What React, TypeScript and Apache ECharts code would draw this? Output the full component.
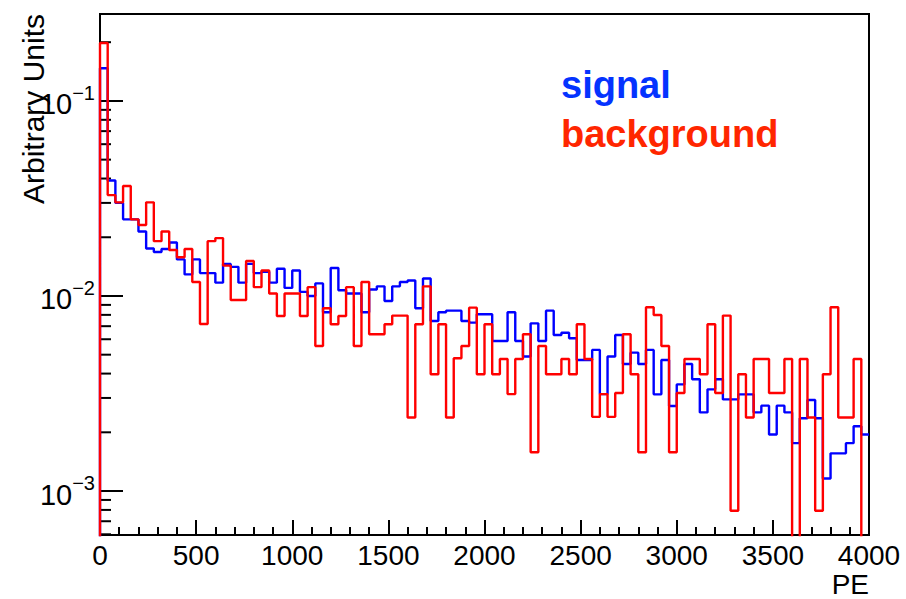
import React, { useEffect, useRef } from "react";
import * as echarts from "echarts";

const FONT = '"Liberation Sans", Arial, Helvetica, sans-serif';

// Histogram binning (PE)
const BIN_WIDTH = 40;
const X_MIN = 0;
const X_MAX = 4000;
const X_TICK_INTERVAL = 500;

// Y axis (log) range
const Y_MIN = 5.95e-4;
const Y_MAX = 0.279;
const Y_MINOR_TICKS = [
  6e-4, 7e-4, 8e-4, 9e-4,
  2e-3, 3e-3, 4e-3, 5e-3, 6e-3, 7e-3, 8e-3, 9e-3,
  2e-2, 3e-2, 4e-2, 5e-2, 6e-2, 7e-2, 8e-2, 9e-2,
  2e-1,
];

const SIGNAL = [
  0.147, 0.0391, 0.03, 0.0247, 0.0247, 0.0214, 0.0175, 0.0168, 0.0174, 0.0188,
  0.0154, 0.0129, 0.0154, 0.0131, 0.0131, 0.0117, 0.0146, 0.0141, 0.0117, 0.0146,
  0.0131, 0.0133, 0.0117, 0.0138, 0.011, 0.0135, 0.0105, 0.01, 0.0116, 0.00825,
  0.0139, 0.0107, 0.0103, 0.0103, 0.00825, 0.0108, 0.0112, 0.00943, 0.0112, 0.0118,
  0.012, 0.00865, 0.0123, 0.00744, 0.00825, 0.00841, 0.00841, 0.00744, 0.0073, 0.00806,
  0.00806, 0.00588, 0.00588, 0.00825, 0.00588, 0.00489, 0.00724, 0.00588, 0.00841, 0.00631,
  0.00648, 0.00607, 0.0047, 0.0047, 0.00529, 0.00314, 0.00489, 0.00631, 0.00448, 0.00512,
  0.00448, 0.00529, 0.00313, 0.0047, 0.00273, 0.00352, 0.00448, 0.00374, 0.00253, 0.00332,
  0.00374, 0.00295, 0.00295, 0.00313, 0.00313, 0.00253, 0.00274, 0.00195, 0.00274, 0.00253,
  0.00176, 0.00236, 0.00293, 0.00236, 0.00116, 0.00156, 0.00156, 0.00176, 0.00215, 0.00195,
];

const BACKGROUND = [
  0.198, 0.0329, 0.0302, 0.0366, 0.0247, 0.0231, 0.0302, 0.0191, 0.0214, 0.0172,
  0.0158, 0.0174, 0.0118, 0.00718, 0.0191, 0.0198, 0.0143, 0.00954, 0.00954, 0.0151,
  0.0111, 0.0135, 0.0103, 0.0079, 0.0103, 0.0103, 0.0079, 0.0111, 0.00554, 0.00865,
  0.00716, 0.0079, 0.0111, 0.00554, 0.0118, 0.00636, 0.00636, 0.00716, 0.00793, 0.00793,
  0.00238, 0.00716, 0.0112, 0.00397, 0.00716, 0.00238, 0.00479, 0.00554, 0.00871, 0.00397,
  0.00716, 0.00397, 0.00475, 0.00314, 0.00475, 0.00636, 0.00158, 0.00554, 0.00397, 0.00397,
  0.00475, 0.00397, 0.00716, 0.00475, 0.0024, 0.00314, 0.0024, 0.00318, 0.00636, 0.00397,
  0.00158, 0.00875, 0.00799, 0.00554, 0.00158, 0.00318, 0.00475, 0.00475, 0.00397, 0.00716,
  0.00318, 0.00793, 0.000792, 0.00397, 0.00238, 0.00475, 0.00475, 0.00318, 0.00318, 0.00475,
  0, 0.00475, 0.00238, 0.000792, 0.00397, 0.00875, 0.00238, 0.00238, 0.00475, 0,
];

const LEGEND = [
  { text: "signal", color: "#0433FF" },
  { text: "background", color: "#FF2600" },
];

const FLOOR = 1e-6; // value used for empty bins / first edge (drawn below the frame and clipped)

function histOutline(values: number[]): [number, number][] {
  const pts: [number, number][] = [];
  pts.push([0, FLOOR]);
  values.forEach((v, i) => {
    const y = v > 0 ? v : FLOOR;
    pts.push([i * BIN_WIDTH, y]);
    pts.push([(i + 1) * BIN_WIDTH, y]);
  });
  return pts;
}

export default function App() {
  const ref = useRef<HTMLDivElement>(null);

  useEffect(() => {
    if (!ref.current) return;
    const chart = echarts.init(ref.current, null, { renderer: "svg" });
    const tickStyle = { color: "#000", width: 2 };

    chart.setOption({
      animation: false,
      backgroundColor: "#fff",
      grid: {
        left: 100,
        top: 14,
        width: 769,
        height: 521,
        show: true,
        borderColor: "#000",
        borderWidth: 2,
        backgroundColor: "transparent",
      },
      xAxis: {
        type: "value",
        min: X_MIN,
        max: X_MAX,
        interval: X_TICK_INTERVAL,
        axisLine: { show: false },
        axisTick: { show: true, inside: true, length: 15, lineStyle: tickStyle },
        minorTick: { show: true, splitNumber: 5, length: 8, lineStyle: tickStyle },
        splitLine: { show: false },
        minorSplitLine: { show: false },
        axisLabel: {
          fontSize: 28,
          color: "#000",
          fontFamily: FONT,
          margin: 6,
          formatter: (v: number) => String(v),
        },
      },
      yAxis: {
        type: "log",
        logBase: 10,
        min: Y_MIN,
        max: Y_MAX,
        axisLine: { show: false },
        axisTick: { show: true, inside: true, length: 23, lineStyle: tickStyle },
        splitLine: { show: false },
        axisLabel: {
          showMinLabel: false,
          showMaxLabel: false,
          margin: 5,
          color: "#000",
          fontFamily: FONT,
          formatter: (v: number) => {
            const e = Math.log10(v);
            const r = Math.round(e);
            if (Math.abs(e - r) > 0.01) return "";
            return "{b|10}{s|" + (r < 0 ? "\u2212" + -r : String(r)) + "}";
          },
          rich: {
            b: { fontSize: 29, lineHeight: 36, fontFamily: FONT, color: "#000", verticalAlign: "bottom" },
            s: { fontSize: 20, lineHeight: 20, fontFamily: FONT, color: "#000", verticalAlign: "top" },
          },
        },
      },
      series: [
        {
          type: "custom",
          name: "yMinorTicks",
          silent: true,
          data: Y_MINOR_TICKS.map((v) => [X_MIN, v]),
          renderItem: (params: any, api: any) => {
            const p = api.coord([api.value(0), api.value(1)]);
            return {
              type: "line",
              shape: { x1: p[0], y1: p[1], x2: p[0] + 11, y2: p[1] },
              style: { stroke: "#000", lineWidth: 2 },
            };
          },
          z: 1,
        },
        {
          type: "line",
          name: "signal",
          data: histOutline(SIGNAL),
          showSymbol: false,
          symbol: "none",
          clip: true,
          lineStyle: { color: "#0000FF", width: 2.4 },
          itemStyle: { color: "#0000FF" },
          z: 3,
        },
        {
          type: "line",
          name: "background",
          data: histOutline(BACKGROUND),
          showSymbol: false,
          symbol: "none",
          clip: true,
          lineStyle: { color: "#FF0000", width: 2.4 },
          itemStyle: { color: "#FF0000" },
          z: 4,
        },
      ],
      graphic: [
        {
          type: "text",
          x: 561,
          y: 85,
          style: {
            text: LEGEND[0].text,
            font: "bold 38px " + FONT,
            fill: LEGEND[0].color,
            align: "left",
            verticalAlign: "middle",
          },
        },
        {
          type: "text",
          x: 561,
          y: 134,
          style: {
            text: LEGEND[1].text,
            font: "bold 38px " + FONT,
            fill: LEGEND[1].color,
            align: "left",
            verticalAlign: "middle",
          },
        },
        {
          type: "text",
          x: 869,
          y: 584,
          style: {
            text: "PE",
            font: "28px " + FONT,
            fill: "#000",
            align: "right",
            verticalAlign: "middle",
          },
        },
        {
          type: "text",
          x: 33,
          y: 14,
          rotation: Math.PI / 2,
          style: {
            text: "Arbitrary Units",
            font: "30px " + FONT,
            fill: "#000",
            align: "right",
            verticalAlign: "middle",
          },
        },
      ],
    });

    return () => chart.dispose();
  }, []);

  return (
    <div
      ref={ref}
      style={{ position: "absolute", left: 0, top: 0, width: 906, height: 599 }}
    />
  );
}
